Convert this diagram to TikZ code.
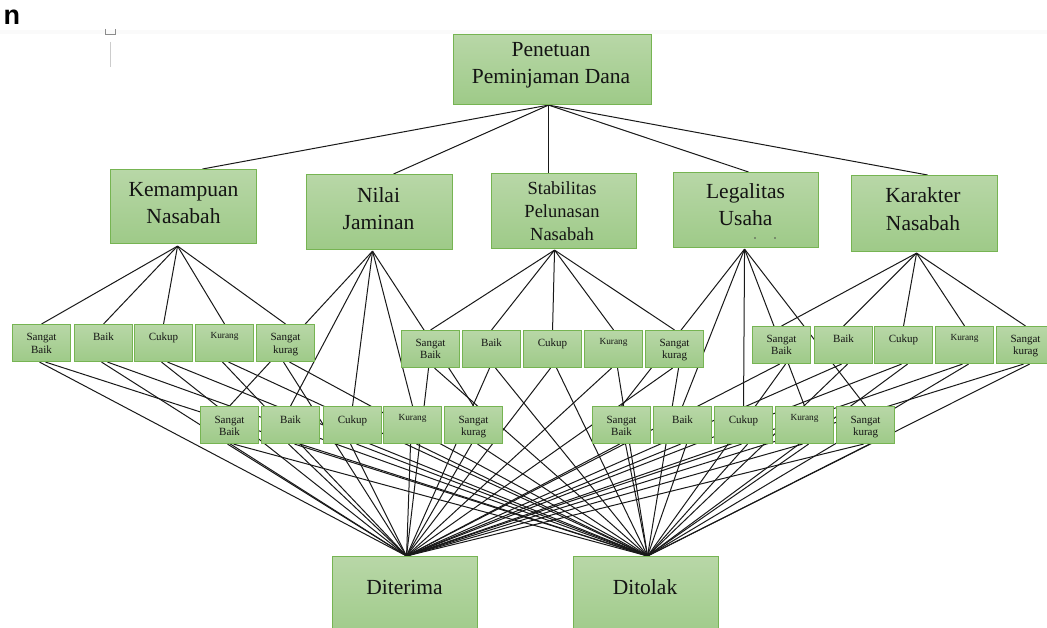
\documentclass[tikz,border=0pt]{standalone}
\usepackage{fontspec}
\setmainfont{Liberation Serif}
\newfontfamily\sansb{Liberation Sans}
\pgfdeclarelayer{bg}
\pgfdeclarelayer{lines}
\pgfsetlayers{bg,lines,main}
\definecolor{boxtop}{RGB}{184,215,167}
\definecolor{boxbot}{RGB}{158,202,136}
\definecolor{boxedge}{RGB}{118,180,82}
\tikzset{
  gbox/.style={draw=boxedge, line width=1.1pt, top color=boxtop, bottom color=boxbot, inner sep=0pt, anchor=north west},
  bigtxt/.style={font=\fontsize{21.5}{26}\selectfont, inner sep=0pt, anchor=base, text=black!92},
  medtxt/.style={font=\fontsize{18.5}{22}\selectfont, inner sep=0pt, anchor=base, text=black!92},
  smalltxt/.style={font=\fontsize{11}{12}\selectfont, inner sep=0pt, anchor=base, text=black!92},
  tinytxt/.style={font=\fontsize{9.3}{10}\selectfont, inner sep=0pt, anchor=base, text=black!92},
  conn/.style={draw=black!90, line width=1pt},
}
\newcommand{\leafnode}[5]{%
  \node[gbox, minimum width=58pt, minimum height=37pt] (#1) at (#2,#3) {};
  \node[smalltxt] (#1a) at ([yshift=-17pt]#1.north) {#4};
  \node[smalltxt] (#1b) at ([yshift=-29pt]#1.north) {#5};
}
\newcommand{\leafkur}[3]{%
  \node[gbox, minimum width=58pt, minimum height=37pt] (#1) at (#2,#3) {};
  \node[tinytxt] (#1a) at ([yshift=-14.5pt]#1.north) {Kurang};
}
\begin{document}
\begin{tikzpicture}[x=1pt,y=-1pt]
\begin{pgfonlayer}{bg}
  \fill[white] (0,0) rectangle (1047,628);
  \fill[black!2] (0,30) rectangle (1047,34);
\end{pgfonlayer}
\useasboundingbox (0,0) rectangle (1047,628);

% decorations top-left
\node[font=\sansb\bfseries\fontsize{27}{27}\selectfont, anchor=base west, inner sep=0pt] (nn) at (3.5,25) {n};
\draw[black!45, line width=0.8pt] (105,29) -- (105,34) -- (115,34) -- (115,29);
\draw[black!20, line width=1pt] (110.5,42) -- (110.5,67);

% top node
\node[gbox, minimum width=198pt, minimum height=70pt] (P) at (453,34) {};
\node[bigtxt] (Pa) at (551,57) {Penetuan};
\node[bigtxt] (Pb) at (551,84) {Peminjaman Dana};

% level 2
\node[gbox, minimum width=146pt, minimum height=74pt] (K) at (110,169) {};
\node[bigtxt] (Ka) at (183.5,197) {Kemampuan};
\node[bigtxt] (Kb) at (183.5,224) {Nasabah};

\node[gbox, minimum width=146pt, minimum height=75pt] (N) at (306,174) {};
\node[bigtxt] (Na) at (378.5,203) {Nilai};
\node[bigtxt] (Nb) at (378.5,230) {Jaminan};

\node[gbox, minimum width=145pt, minimum height=75pt] (S) at (491,173) {};
\node[medtxt] (Sa) at (562,195) {Stabilitas};
\node[medtxt] (Sb) at (562,218) {Pelunasan};
\node[medtxt] (Sc) at (562,241) {Nasabah};

\node[gbox, minimum width=145pt, minimum height=75pt] (L) at (673,172) {};
\node[bigtxt] (La) at (745.5,199) {Legalitas};
\node[bigtxt] (Lb) at (745.5,226) {Usaha};
\fill[black!70] (755,238) circle (0.8pt) (775,238) circle (0.8pt);

\node[gbox, minimum width=146pt, minimum height=76pt] (C) at (851,175) {};
\node[bigtxt] (Ca) at (923,203) {Karakter};
\node[bigtxt] (Cb) at (923,231) {Nasabah};

% bottom nodes
\node[gbox, minimum width=145pt, minimum height=84pt] (dit) at (332,556) {};
\node[bigtxt] (dita) at (404.5,594) {Diterima};
\node[gbox, minimum width=145pt, minimum height=84pt] (dto) at (573,556) {};
\node[bigtxt] (dtoa) at (645,594) {Ditolak};

% leaves row 1, group A
\leafnode{a1}{12}{324}{Sangat}{Baik}
\leafnode{a2}{74}{324}{Baik}{}
\leafnode{a3}{134}{324}{Cukup}{}
\leafkur{a4}{195}{324}
\leafnode{a5}{256}{324}{Sangat}{kurag}
% group C
\leafnode{c1}{401}{330}{Sangat}{Baik}
\leafnode{c2}{462}{330}{Baik}{}
\leafnode{c3}{523}{330}{Cukup}{}
\leafkur{c4}{584}{330}
\leafnode{c5}{645}{330}{Sangat}{kurag}
% group E
\leafnode{e1}{752}{326}{Sangat}{Baik}
\leafnode{e2}{814}{326}{Baik}{}
\leafnode{e3}{874}{326}{Cukup}{}
\leafkur{e4}{935}{326}
\leafnode{e5}{996}{326}{Sangat}{kurag}
% row 2 group B
\leafnode{b1}{200}{406}{Sangat}{Baik}
\leafnode{b2}{261}{406}{Baik}{}
\leafnode{b3}{323}{406}{Cukup}{}
\leafkur{b4}{383}{406}
\leafnode{b5}{444}{406}{Sangat}{kurag}
% row 2 group D
\leafnode{d1}{592}{406}{Sangat}{Baik}
\leafnode{d2}{653}{406}{Baik}{}
\leafnode{d3}{714}{406}{Cukup}{}
\leafkur{d4}{775}{406}
\leafnode{d5}{836}{406}{Sangat}{kurag}

\begin{pgfonlayer}{lines}
  % top to level 2
  \draw[conn] ([xshift=-4pt]P.south) -- ([xshift=19pt]K.north);
  \draw[conn] ([xshift=-4pt]P.south) -- ([xshift=14pt]N.north);
  \draw[conn] ([xshift=-4pt]P.south) -- ([xshift=-15.5pt]S.north);
  \draw[conn] ([xshift=-4pt]P.south) -- ([xshift=2.5pt]L.north);
  \draw[conn] ([xshift=-4pt]P.south) -- ([xshift=3pt]C.north);
  % level 2 to leaves
  \foreach \i in {1,...,5}{
    \draw[conn] ([xshift=-6pt,yshift=-2pt]K.south) -- (a\i.north);
    \draw[conn] ([xshift=-7pt,yshift=-1pt]N.south) -- (b\i.north);
    \draw[conn] ([xshift=-9.5pt,yshift=-1pt]S.south) -- (c\i.north);
    \draw[conn] ([xshift=-1.5pt,yshift=-1pt]L.south) -- (d\i.north);
    \draw[conn] ([xshift=-8pt,yshift=-1pt]C.south) -- (e\i.north);
  }
  % leaves to decisions
  \foreach \g in {a,b,c,d,e}{
    \foreach \i in {1,...,5}{
      \draw[conn] ([xshift=-2pt]\g\i.south) -- ([xshift=1.5pt]dit.north);
      \draw[conn] ([xshift=4pt]\g\i.south) -- ([xshift=1.5pt]dto.north);
    }
  }
\end{pgfonlayer}
\end{tikzpicture}
\end{document}
